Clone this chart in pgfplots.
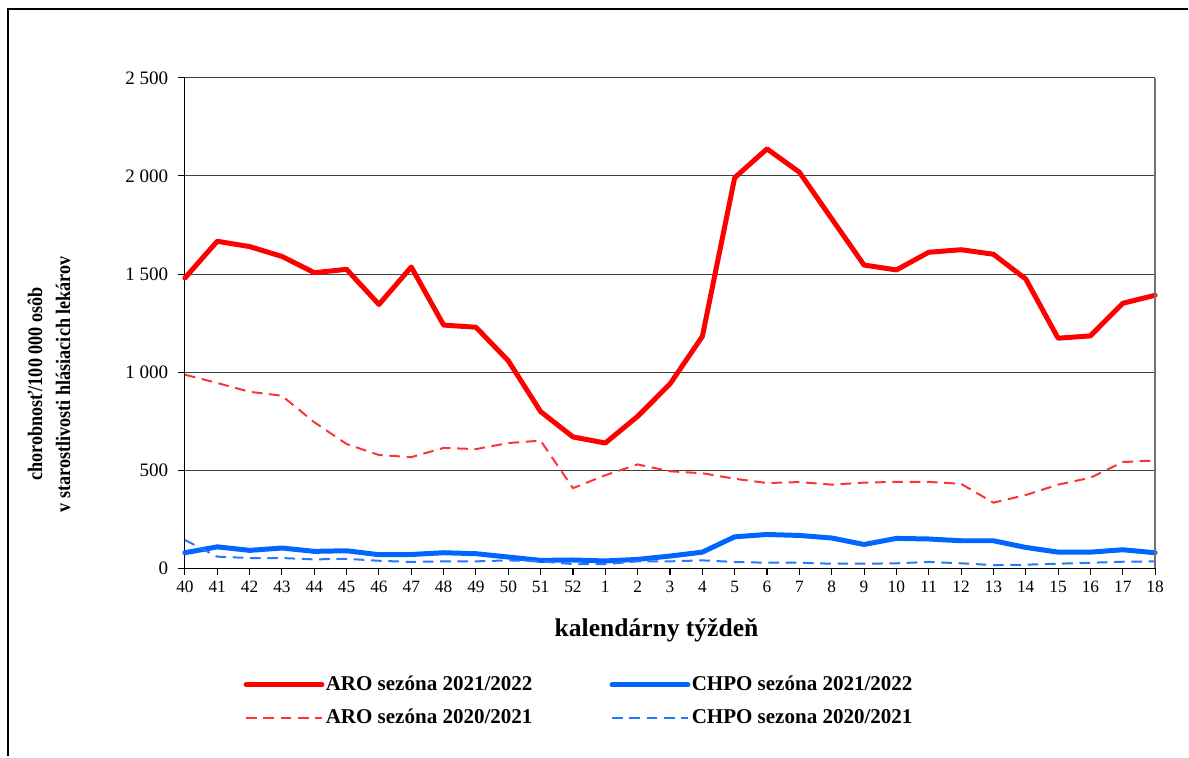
\documentclass[border=0pt]{standalone}
\usepackage{pgfplots}
\pgfplotsset{compat=1.18}
\usepackage{pgfplotstable}
\usepackage{fontspec}
\setmainfont{Liberation Serif}

\definecolor{aroRed}{RGB}{255,0,0}
\definecolor{aroRedD}{RGB}{255,51,51}
\definecolor{chpoBlue}{RGB}{0,102,255}
\definecolor{chpoBlueD}{RGB}{40,120,255}

% idx = position on the x axis, wk = calendar week
\pgfplotstableread{
idx wk aro21 aro20 chpo21 chpo20
0  40 1480 987 80  145
1  41 1667 945 110 60
2  42 1640 900 92  53
3  43 1590 880 104 53
4  44 1507 745 87  46
5  45 1524 634 90  49
6  46 1345 578 70  39
7  47 1536 567 71  33
8  48 1240 614 80  36
9  49 1229 608 75  36
10 50 1058 639 58  41
11 51 799  651 41  36
12 52 670  409 43  22
13 1  639  475 38  22
14 2  775  530 46  36
15 3  940  495 63  36
16 4  1182 485 83  41
17 5  1991 457 161 33
18 6  2138 435 173 29
19 7  2019 440 168 29
20 8  1782 427 155 24
21 9  1546 437 122 24
22 10 1521 441 153 26
23 11 1611 441 150 33
24 12 1624 431 141 26
25 13 1601 335 141 17
26 14 1475 374 107 19
27 15 1173 427 83  24
28 16 1185 462 83  29
29 17 1351 542 95  34
30 18 1392 550 80  36
}\weekdata

\begin{document}
\begin{tikzpicture}
\begin{axis}[
    name=ax,
    scale only axis,
    width=729.3pt, height=368.8pt,
    xmin=0, xmax=30, ymin=0, ymax=2500,
    axis x line*=bottom, axis y line*=left,
    axis line style={black, line width=0.8pt},
    xtick={0,...,30},
    xticklabels={40,41,42,43,44,45,46,47,48,49,50,51,52,1,2,3,4,5,6,7,8,9,10,11,12,13,14,15,16,17,18},
    ytick={0,500,1000,1500,2000,2500},
    yticklabels={0,500,1~000,1~500,2~000,2~500},
    tick align=outside,
    major tick length=5pt,
    tick style={black, line width=0.8pt},
    xticklabel style={font=\fontsize{13}{15}\selectfont, yshift=-1pt},
    yticklabel style={font=\fontsize{14.3}{16}\selectfont, xshift=-4pt},
    ymajorgrids,
    grid style={black!75, line width=0.8pt},
    clip=false,
    xlabel={kalendárny týždeň},
    every axis x label/.style={at={(rel axis cs:0.4861,-0.1267)}, anchor=center,
        font=\fontsize{19.2}{21}\selectfont\bfseries},
    ylabel={chorobnosť/100 000 osôb\\v starostlivosti hlásiacich lekárov},
    every axis y label/.style={at={(rel axis cs:-0.1402,0.3757)}, anchor=center, rotate=90,
        xscale=0.88, align=center, font=\fontsize{15.5}{21}\selectfont\bfseries},
    legend columns=2,
    legend style={at={(rel axis cs:0.4059,-0.2711)}, anchor=center, draw=none, fill=none,
        font=\fontsize{15.8}{18}\selectfont\bfseries,
        nodes={inner sep=1pt, text height=11.5pt, text depth=3pt},
        row sep=8.5pt,
        /tikz/every even column/.append style={column sep=57pt}},
    legend cell align=left,
    legend image code/.code={\draw[#1] (0pt,0pt) -- (57pt,0pt);},
]
\addplot[aroRed, line width=3.75pt, line join=round, line cap=round] table[x=idx, y=aro21] {\weekdata};
\addlegendentry{ARO sezóna 2021/2022}
\addplot[chpoBlue, line width=3.75pt, line join=round, line cap=round] table[x=idx, y=chpo21] {\weekdata};
\addlegendentry{CHPO sezóna 2021/2022}
\addplot[aroRedD, line width=1.5pt, dash pattern=on 8pt off 5pt] table[x=idx, y=aro20] {\weekdata};
\addlegendentry{ARO sezóna 2020/2021}
\addplot[chpoBlueD, line width=1.5pt, dash pattern=on 8pt off 5pt] table[x=idx, y=chpo20] {\weekdata};
\addlegendentry{CHPO sezona 2020/2021}
\draw[black!55, line width=1.2pt] (rel axis cs:1,0) -- (rel axis cs:1,1);
\end{axis}
% outer chart frame (left and top edges visible)
\draw[black, line width=1.6pt] ([shift={(-133pt,-141pt)}]ax.south west) -- ([shift={(-133pt,420.5pt)}]ax.south west) -- ([shift={(754pt,420.5pt)}]ax.south west);
\path[use as bounding box] ([shift={(-139pt,-140.5pt)}]ax.south west) rectangle ([shift={(23.5pt,58.5pt)}]ax.north east);
\end{tikzpicture}
\end{document}
